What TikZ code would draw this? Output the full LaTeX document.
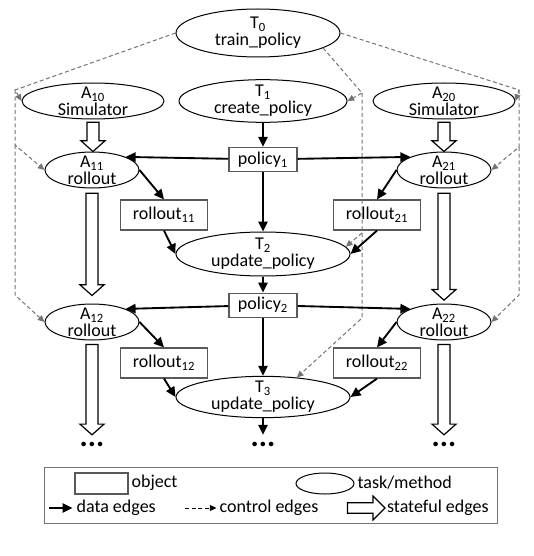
\documentclass[tikz,border=0pt]{standalone}
\usepackage{fontspec}
\setmainfont{Carlito}
\usetikzlibrary{arrows.meta,positioning,calc,shapes.geometric}

\begin{document}
\begin{tikzpicture}[
  x=0.75pt, y=-0.75pt,
  font=\fontsize{13.5}{12.5}\selectfont,
  task/.style={draw, ellipse, align=center, inner xsep=0pt, inner ysep=-2.8pt, line width=0.75pt},
  maintask/.style={task, minimum width=130.5pt, minimum height=32pt},
  simtask/.style={task, minimum width=106.5pt, minimum height=27pt},
  rolltask/.style={task, minimum width=70.5pt, minimum height=27pt},
  obj/.style={draw=black!65, rectangle, align=center, inner sep=1pt, line width=0.9pt},
  polobj/.style={obj, minimum width=51pt, minimum height=18pt},
  rollobj/.style={obj, minimum width=65pt, minimum height=22.5pt},
  data/.style={-{Triangle[length=7.5pt, width=7pt]}, line width=1.4pt},
  ctrl/.style={-{Triangle[length=5pt, width=4.5pt]}, black!55, dash pattern=on 3pt off 2pt, line width=0.75pt},
  stateful/.style={draw, line width=0.9pt, fill=white, to path={let \p1=(\tikztostart), \p2=(\tikztotarget) in
    (\x1-4.5pt,\y1) -- (\x1+4.5pt,\y1) -- (\x1+4.5pt,\y2+8pt) -- (\x1+9pt,\y2+8pt) -- (\x1,\y2)
    -- (\x1-9pt,\y2+8pt) -- (\x1-4.5pt,\y2+8pt) -- cycle}},
  statefulr/.style={draw, line width=0.9pt, fill=white, to path={let \p1=(\tikztostart), \p2=(\tikztotarget) in
    (\x1,\y1-4pt) -- (\x2-9pt,\y1-4pt) -- (\x2-9pt,\y1-9pt) -- (\x2,\y1) -- (\x2-9pt,\y1+9pt)
    -- (\x2-9pt,\y1+4pt) -- (\x1,\y1+4pt) -- cycle}},
  dots/.style={font=\fontsize{23}{23}\selectfont\bfseries, inner sep=0pt},
  lbl/.style={anchor=west, inner sep=1pt}
]
\useasboundingbox (0,0) rectangle (534,556);

% tasks and objects
\node[maintask, minimum width=123pt, minimum height=36pt] (T0) at (258,33) {T\textsubscript{0}\\train\_policy};
\node[simtask] (A10) at (93,101) {A\textsubscript{10}\\Simulator};
\node[maintask, minimum width=126pt] (T1) at (263,101) {T\textsubscript{1}\\create\_policy};
\node[simtask] (A20) at (444,101) {A\textsubscript{20}\\Simulator};
\node[polobj, below=18pt of T1] (policy1) {policy\textsubscript{1}};
\node[rolltask] (A11) at (92,170) {A\textsubscript{11}\\rollout};
\node[rolltask] (A21) at (444,170) {A\textsubscript{21}\\rollout};
\node[rollobj] (rollout11) at (164,215) {rollout\textsubscript{11}};
\node[rollobj] (rollout21) at (377,215) {rollout\textsubscript{21}};
\node[maintask, minimum height=33pt] (T2) at (263,254) {T\textsubscript{2}\\update\_policy};
\node[polobj, below=12pt of T2] (policy2) {policy\textsubscript{2}};
\node[rolltask] (A12) at (92,322) {A\textsubscript{12}\\rollout};
\node[rolltask] (A22) at (444,322) {A\textsubscript{22}\\rollout};
\node[rollobj] (rollout12) at (164,363) {rollout\textsubscript{12}};
\node[rollobj] (rollout22) at (377,363) {rollout\textsubscript{22}};
\node[maintask, minimum height=31pt] (T3) at (263,397) {T\textsubscript{3}\\update\_policy};
\node[dots] (dotsL) at (92,444) {...};
\node[dots] (dotsC) at (263,444) {...};
\node[dots] (dotsR) at (444,444) {...};

% control edges
\coordinate (cl1) at (15,90);
\coordinate (cl2) at (15,145);
\coordinate (cl3) at (15,295);
\coordinate (cc1) at (362,93);
\coordinate (cc2) at (362,233);
\coordinate (cc3) at (362,318);
\coordinate (cr1) at (519,90);
\coordinate (cr2) at (519,147);
\coordinate (cr3) at (519,295);
\draw[ctrl] (T0.west) -- (cl1) -- (A10.west);
\draw[ctrl] (cl1) -- (cl2) -- (A11.west);
\draw[ctrl] (cl2) -- (cl3) -- (A12.west);
\draw[ctrl] (T0.-13) -- (cc1) -- (T1.east);
\draw[ctrl] (cc1) -- (cc2) -- (T2.5);
\draw[ctrl] (cc2) -- (cc3) -- (T3.30);
\draw[ctrl] (T0.east) -- (cr1) -- (A20.east);
\draw[ctrl] (cr1) -- (cr2) -- (A21.east);
\draw[ctrl] (cr2) -- (cr3) -- (A22.east);

% stateful edges
\draw[stateful] ([yshift=-2pt]A10.south) to (A11.north);
\draw[stateful] ([yshift=-3.5pt]A11.south) to ([yshift=6pt]A12.north);
\draw[stateful] ([yshift=-3pt]A12.south) to ([yshift=5pt]dotsL.north);
\draw[stateful] ([yshift=-2pt]A20.south) to (A21.north);
\draw[stateful] ([yshift=-3.5pt]A21.south) to ([yshift=2.5pt]A22.north);
\draw[stateful] ([yshift=-3pt]A22.south) to ([yshift=5pt]dotsR.north);

% data edges
\draw[data] (T1) -- (policy1);
\draw[data] (policy1) -- (A11.north east);
\draw[data] (policy1) -- (A21.north west);
\draw[data] (A11.east) -- (rollout11.north);
\draw[data] (A21.west) -- (rollout21.north);
\draw[data] (policy1) -- (T2);
\draw[data] (rollout11.south) -- (T2.west);
\draw[data] (rollout21.south) -- (T2.east);
\draw[data] (T2) -- (policy2);
\draw[data] (policy2) -- (A12.north east);
\draw[data] (policy2) -- (A22.north west);
\draw[data] (A12.east) -- (rollout12.north);
\draw[data] (A22.west) -- (rollout22.north);
\draw[data] (policy2) -- (T3);
\draw[data] (rollout12.south) -- (T3.west);
\draw[data] (rollout22.south) -- (T3.east);
\draw[data] (T3) -- ([yshift=5pt]dotsC.north);

% legend
\node[draw=black!55, line width=0.75pt, minimum width=339.75pt, minimum height=42pt, inner sep=0pt] (legend) at (270.5,495) {};
\node[obj, minimum width=39.75pt, minimum height=15.75pt] (lobj) at (101.5,483.5) {};
\node[lbl] (lobjtxt) at (130,483) {object};
\node[task, minimum width=43.5pt, minimum height=15.75pt] (ltask) at (325,483.5) {};
\node[lbl] (ltasktxt) at (356,483) {task/method};
\coordinate (ld1) at (49,508);
\coordinate (ld2) at (72.5,508);
\draw[data] (ld1) -- (ld2);
\node[lbl] (ldtxt) at (75,508) {data edges};
\coordinate (lc1) at (185,508);
\coordinate (lc2) at (216.5,508);
\draw[ctrl, black] (lc1) -- (lc2);
\node[lbl] (lctxt) at (218,508) {control edges};
\coordinate (ls1) at (347.5,508);
\coordinate (ls2) at (385,508);
\draw[statefulr] (ls1) to (ls2);
\node[lbl] (lstxt) at (385.5,508) {stateful edges};
\end{tikzpicture}
\end{document}
